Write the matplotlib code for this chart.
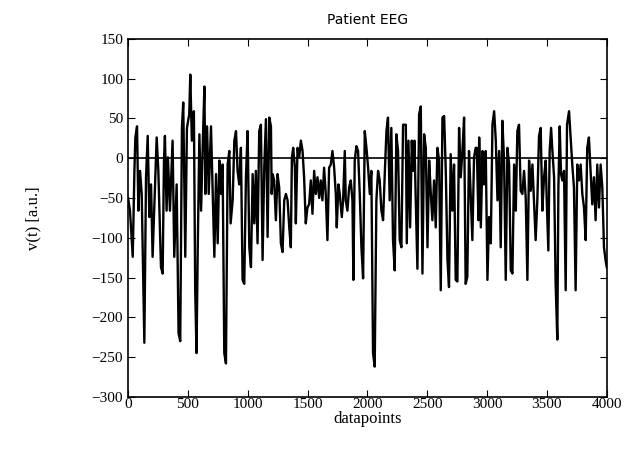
import numpy as np
import matplotlib
matplotlib.use("Agg")
import matplotlib.pyplot as plt

# extremes (datapoint, v)
datapoints = [
    0, 16, 39, 53, 61, 75, 86, 100, 114, 136, 150, 164, 178, 192, 205, 228, 239, 253,
    275, 289, 300, 308, 322, 333, 350, 372, 386, 406, 422, 436, 450, 461, 478, 492,
    511, 520, 533, 550, 561, 572,
    582, 596, 610, 624, 638, 646, 660, 674, 693, 721, 735, 749, 763, 777, 790, 804,
    818, 832, 846, 857, 874, 888, 902, 915, 929, 943, 957, 971, 985, 999, 1013, 1027,
    1041, 1055, 1068, 1082, 1096, 1110, 1124, 1138, 1152,
    1166, 1180, 1194, 1200, 1208, 1221, 1235, 1249, 1263, 1277, 1291, 1305, 1319,
    1333, 1347, 1360, 1369, 1380, 1394, 1402, 1416, 1430, 1444, 1458, 1471, 1485,
    1499, 1513, 1527, 1541, 1555, 1569, 1583, 1597, 1610, 1624, 1638, 1652, 1666,
    1680, 1694, 1708, 1722, 1736,
    1744, 1758, 1769, 1786, 1797, 1811, 1819, 1833, 1847, 1861, 1875, 1883, 1894,
    1908, 1922, 1936, 1950, 1964, 1978, 1992, 2006, 2020, 2033, 2047, 2061, 2075,
    2089, 2103, 2117, 2131, 2145, 2159, 2172, 2186, 2200, 2214, 2228, 2242, 2256,
    2270, 2284, 2298, 2311, 2321,
    2329, 2343, 2357, 2371, 2382, 2393, 2404, 2418, 2432, 2446, 2460, 2474, 2488,
    2502, 2516, 2530, 2543, 2557, 2571, 2585, 2599, 2613, 2627, 2641, 2655, 2669,
    2682, 2696, 2710, 2724, 2738, 2752, 2766, 2780, 2794, 2808, 2821, 2835, 2849,
    2863, 2877, 2891, 2905,
    2914, 2928, 2934, 2948, 2962, 2975, 2989, 3003, 3017, 3031, 3045, 3059, 3073,
    3087, 3101, 3114, 3128, 3142, 3156, 3170, 3184, 3198, 3212, 3226, 3240, 3253,
    3267, 3281, 3295, 3309, 3323, 3337, 3351, 3365, 3379, 3393, 3406, 3420, 3434,
    3448, 3462, 3476, 3490,
    3498, 3512, 3523, 3535, 3546, 3560, 3573, 3587, 3596, 3607, 3618, 3629, 3643,
    3657, 3668, 3685, 3698, 3712, 3726, 3740, 3754, 3768, 3782, 3796, 3810, 3824,
    3837, 3851, 3865, 3879, 3893, 3907, 3921, 3935, 3949, 3963, 3977, 3990, 4000,
]
voltage = [
    -50, -66, -124, -16, 26, 40, -66, -16, -45, -232, -24, 28, -74, -33, -124, -20, 26, -16,
    -137, -145, -3, 28, -66, 1, -66, 22, -124, -33, -220, -230, 38, 70, -124, 38,
    55, 105, 22, 59, -166, -245,
    -116, 30, -66, 17, 90, -45, 40, -45, 40, -124, -20, -107, -3, -45, -8, -245,
    -258, -8, 9, -82, -53, 22, 34, -16, -33, 13, -153, -158, -24, 34, -112, -137,
    -20, -82, -16, -107, 34, 42, -128, -12, 49,
    -99, 51, 40, -45, -20, -28, -78, -20, -37, -107, -118, -53, -45,
    -53, -87, -112, 1, 13, -12, -82, 13, 1, 22, 9, -24, -82,
    -62, -58, -28, -70, -16, -45, -24, -50, -28, -53, -12, -45, -103,
    -12, -8, 9, -12, -45,
    -87, -33, -45, -74, -53, 9, -53, -66, -37, -28, -53, -153, -3,
    15, 9, -45, -112, -151, 34, 13, -12, -45, -16, -245, -262, -53,
    -16, -28, -66, -78, -20, 34, 51, -53, 38, -103, -141, 30, 9,
    -103, -112, 42, 42, 42,
    -107, 22, -87, 22, -16, 22, -53, -139, 55, 65, -145, 30, 13,
    -112, -3, -45, -78, -28, -87, 13, -3, -166, 51, 53, -16, -128,
    -162, 5, -66, -8, -153, -155, 38, -24, 9, 51, -158, -149, 9,
    -45, -103, 1, 13,
    13, -78, 26, -87, 9, -33, 9, -153, -74, -107, 42, 59, 22,
    -53, 9, -112, 47, -3, -153, 13, -8, -141, -145, -8, -66, 34,
    42, -41, -45, -16, -50, -153, -3, -41, -8, -58, -103, -53, 28,
    38, -66, -24, -3,
    -50, -116, 9, 38, 9, -24, -158, -228, -37, 40, -20, -28, -16,
    -166, 42, 59, 26, -8, -37, -166, -8, -28, -8, -45, -62, -103,
    13, 26, -16, -58, -24, -78, -8, -62, -8, -37, -112, -128, -137,
]

xticks = np.arange(0, 4001, 500)
yticks = np.arange(-300, 151, 50)

plt.rcParams['font.family'] = ['Liberation Serif', 'DejaVu Serif']
fig = plt.figure(figsize=(6.34, 4.62), dpi=100)
ax = fig.add_axes([0.202, 0.141, 0.755, 0.775])

ax.plot(datapoints, voltage, color='black', lw=1.7)
ax.axhline(0, color='black', lw=1.2)

ax.set_xlim(0, 4000)
ax.set_ylim(-300, 150)
ax.set_xticks(xticks)
ax.set_yticks(yticks)
ax.tick_params(direction='in', top=True, right=True, length=5, labelsize=11)
ax.tick_params(axis='x', pad=1)
for s in ax.spines.values():
    s.set_linewidth(1.2)

ax.set_title('Patient EEG', fontsize=10, family='DejaVu Sans', pad=11)
ax.set_xlabel('datapoints', fontsize=12, labelpad=0)
ax.set_ylabel('v(t) [a.u.]', fontsize=12, labelpad=36)

fig.savefig('out.png', dpi=100)
